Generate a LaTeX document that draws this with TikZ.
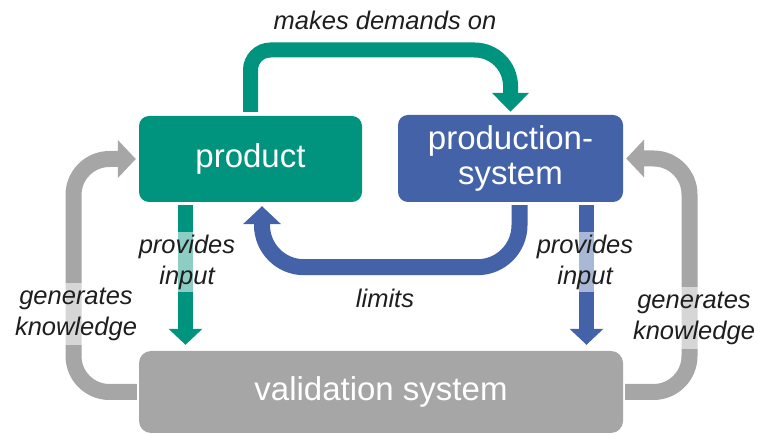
\documentclass[tikz,border=0pt]{standalone}
\usepackage{fontspec}
\setmainfont{Liberation Sans}
\usetikzlibrary{arrows.meta,calc}
\definecolor{prodgreen}{RGB}{0,148,126}
\definecolor{sysblue}{RGB}{68,98,168}
\definecolor{valgray}{RGB}{166,166,166}
\definecolor{labelink}{RGB}{30,30,30}

\begin{document}
\begin{tikzpicture}[x=1pt,y=-1pt,
  box/.style={rounded corners=10pt, text=white, align=center, inner sep=0pt,
    font=\fontsize{33}{35}\selectfont},
  flow/.style={line width=15pt, -{Triangle[width=36pt,length=19pt]}},
  lbl/.style={font=\fontsize{25.5}{31}\selectfont\itshape, text=labelink, align=center},
  veil/.style={fill=white, fill opacity=0.55, text opacity=1, inner sep=0pt}
]
\useasboundingbox (0,0) rectangle (758,435);

% the three blocks
\node[box, fill=prodgreen, minimum width=223pt, minimum height=86pt] (prod) at (250.5,159) {product};
\node[box, fill=sysblue, minimum width=225pt, minimum height=87pt] (sys) at (510.5,158.5) {production-\\system};
\node[box, fill=valgray, rounded corners=12pt, minimum width=484pt, minimum height=82pt] (val) at (381,392) {validation system};

% helper coordinates
\coordinate (topy) at (0,50);
\coordinate (leftx) at (73.5,0);
\coordinate (rightx) at (689.5,0);
\coordinate (pinL) at ($(prod.south)+(-65,3)$);
\coordinate (pinR) at ($(sys.south)+(76,3)$);
\coordinate (valtop) at ($(val.north)+(0,-6)$);

% product makes demands on production system (tight bend left, wide bend right)
\draw[flow, draw=prodgreen]
  ($(prod.north)+(0,-4)$) -- ($(prod.north |- topy)+(0,20)$)
  arc[start angle=180, end angle=270, radius=20]
  -- ($(sys.north |- topy)+(-36,0)$)
  arc[start angle=270, end angle=360, radius=36]
  -- ($(sys.north)+(0,-3)$);

% production system limits product
\draw[flow, draw=sysblue, line width=16pt, -{Triangle[width=37pt,length=18pt]}, rounded corners=42pt]
  ($(sys.south)+(9,3)$) |- ($(prod.south)+(11.5,65)$) -- ($(prod.south)+(11.5,4)$);

% inputs to the validation system
\draw[flow, draw=prodgreen, -{Triangle[width=33pt,length=16pt]}] (pinL) -- (pinL |- valtop);
\draw[flow, draw=sysblue, -{Triangle[width=33pt,length=16pt]}] (pinR) -- (pinR |- valtop);

% knowledge fed back
\draw[flow, draw=valgray, line width=16pt, -{Triangle[width=37pt,length=18pt]}, rounded corners=36pt]
  ($(val.west)+(-2,0)$) -| (leftx |- prod.west) -- ($(prod.west)+(-3,0)$);
\draw[flow, draw=valgray, line width=16pt, -{Triangle[width=37pt,length=18pt]}, rounded corners=36pt]
  ($(val.east)+(2,0)$) -| (rightx |- sys.east) -- ($(sys.east)+(3,0)$);

% labels
\node[lbl] (demands) at (385,20) {makes demands on};
\node[lbl] (limits) at (385,298) {limits};
\node[lbl, veil, minimum width=106pt, minimum height=60pt] (inL) at (187,262) {provides\\input};
\node[lbl, veil, minimum width=106pt, minimum height=60pt] (inR) at (585,262) {provides\\input};
\node[lbl, veil, minimum width=136pt, minimum height=62pt] (genL) at (76,314) {generates\\knowledge};
\node[lbl, veil, minimum width=128pt, minimum height=62pt] (genR) at (694,318) {generates\\knowledge};
\end{tikzpicture}
\end{document}
